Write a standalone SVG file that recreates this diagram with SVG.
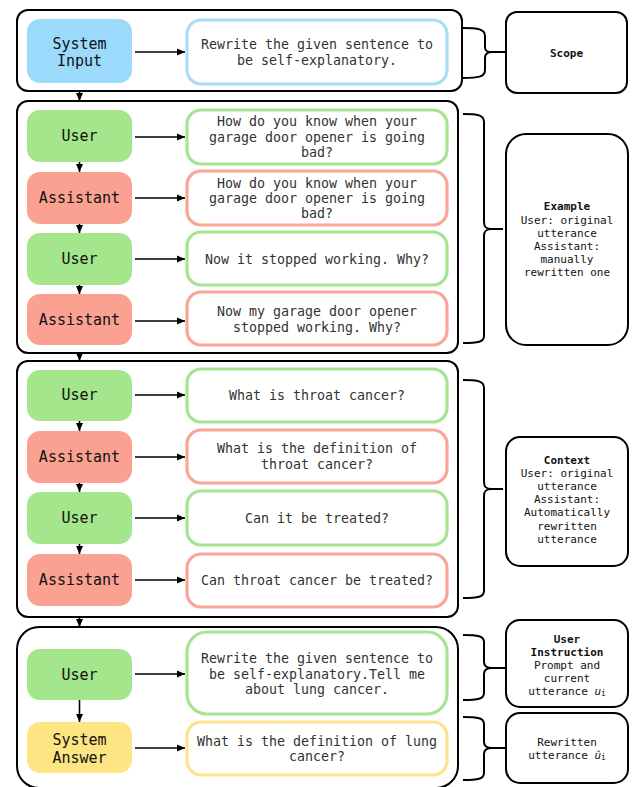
<svg xmlns="http://www.w3.org/2000/svg" width="635" height="787" viewBox="0 0 635 787">
<defs>
<marker id="ah" markerUnits="userSpaceOnUse" markerWidth="9" markerHeight="8" refX="8" refY="4" orient="auto">
<path d="M0,0.5 L8,4 L0,7.5 z" fill="#000"/>
</marker>
<style>
.outer{fill:#fff;stroke:#000;stroke-width:2}
.side{fill:#fff;stroke:#000;stroke-width:2}
.node{stroke:none}
.u{fill:#a3e68b}
.a{fill:#faa191}
.s{fill:#9cdafc}
.y{fill:#fde583}
.tb{fill:#fff;stroke-width:3.2}
.tu{stroke:#a6e491}
.ta{stroke:#f9a598}
.ts{stroke:#a9dcf7}
.ty{stroke:#fde38b}
.lbl{font-family:"DejaVu Sans Mono","Liberation Mono",monospace;font-size:15px;fill:#111;text-anchor:middle;dominant-baseline:central}
.txt{font-family:"DejaVu Sans Mono","Liberation Mono",monospace;font-size:13.3px;fill:#333;text-anchor:middle;dominant-baseline:central}
.st{font-family:"DejaVu Sans Mono","Liberation Mono",monospace;font-size:11px;fill:#111;text-anchor:middle;dominant-baseline:central}
.b{font-weight:bold}
.con line{stroke:#000;stroke-width:1.6;marker-end:url(#ah)}
.brace path{fill:none;stroke:#000;stroke-width:2}
</style>
</defs>

<!-- section containers -->
<g id="section1"><rect class="outer" x="17" y="10" width="445" height="81" rx="11"/></g>
<g id="section2"><rect class="outer" x="17" y="101" width="441" height="252" rx="11"/></g>
<g id="section3"><rect class="outer" x="17" y="361" width="441" height="256" rx="11"/></g>
<g id="section4"><rect class="outer" x="17" y="627" width="441" height="161" rx="22"/></g>

<!-- section 1 -->
<g id="n-system-input"><rect class="node s" x="27" y="19" width="105" height="64" rx="13"/>
<text class="lbl" x="79.5" y="44">System</text><text class="lbl" x="79.5" y="61">Input</text></g>
<g id="t-system-input"><rect class="tb ts" x="187" y="20" width="260" height="64" rx="14"/>
<text class="txt" x="317" y="44">Rewrite the given sentence to</text><text class="txt" x="317" y="60">be self-explanatory.</text></g>

<!-- section 2 -->
<g id="n-user1"><rect class="node u" x="27" y="110" width="105" height="52" rx="13"/><text class="lbl" x="79.5" y="136">User</text></g>
<g id="t-user1"><rect class="tb tu" x="187" y="110" width="260" height="54" rx="14"/>
<text class="txt" x="317" y="121">How do you know when your</text><text class="txt" x="317" y="137">garage door opener is going</text><text class="txt" x="317" y="152">bad?</text></g>
<g id="n-asst1"><rect class="node a" x="27" y="172" width="105" height="52" rx="13"/><text class="lbl" x="79.5" y="198">Assistant</text></g>
<g id="t-asst1"><rect class="tb ta" x="187" y="171" width="260" height="54" rx="14"/>
<text class="txt" x="317" y="183">How do you know when your</text><text class="txt" x="317" y="198">garage door opener is going</text><text class="txt" x="317" y="213">bad?</text></g>
<g id="n-user2"><rect class="node u" x="27" y="233" width="105" height="52" rx="13"/><text class="lbl" x="79.5" y="259">User</text></g>
<g id="t-user2"><rect class="tb tu" x="187" y="232" width="260" height="53" rx="14"/>
<text class="txt" x="317" y="259">Now it stopped working. Why?</text></g>
<g id="n-asst2"><rect class="node a" x="27" y="294" width="105" height="51" rx="13"/><text class="lbl" x="79.5" y="320">Assistant</text></g>
<g id="t-asst2"><rect class="tb ta" x="187" y="292" width="260" height="53" rx="14"/>
<text class="txt" x="317" y="311">Now my garage door opener</text><text class="txt" x="317" y="327">stopped working. Why?</text></g>

<!-- section 3 -->
<g id="n-user3"><rect class="node u" x="27" y="370" width="105" height="51" rx="13"/><text class="lbl" x="79.5" y="395">User</text></g>
<g id="t-user3"><rect class="tb tu" x="187" y="369" width="260" height="53" rx="14"/>
<text class="txt" x="317" y="395">What is throat cancer?</text></g>
<g id="n-asst3"><rect class="node a" x="27" y="431" width="105" height="52" rx="13"/><text class="lbl" x="79.5" y="457">Assistant</text></g>
<g id="t-asst3"><rect class="tb ta" x="187" y="430" width="260" height="53" rx="14"/>
<text class="txt" x="317" y="448">What is the definition of</text><text class="txt" x="317" y="464">throat cancer?</text></g>
<g id="n-user4"><rect class="node u" x="27" y="492" width="105" height="52" rx="13"/><text class="lbl" x="79.5" y="518">User</text></g>
<g id="t-user4"><rect class="tb tu" x="187" y="491" width="260" height="54" rx="14"/>
<text class="txt" x="317" y="518">Can it be treated?</text></g>
<g id="n-asst4"><rect class="node a" x="27" y="554" width="105" height="52" rx="13"/><text class="lbl" x="79.5" y="580">Assistant</text></g>
<g id="t-asst4"><rect class="tb ta" x="187" y="554" width="260" height="53" rx="14"/>
<text class="txt" x="317" y="580">Can throat cancer be treated?</text></g>

<!-- section 4 -->
<g id="n-user5"><rect class="node u" x="27" y="649" width="105" height="51" rx="13"/><text class="lbl" x="79.5" y="675">User</text></g>
<g id="t-user5"><rect class="tb tu" x="187" y="632" width="260" height="82" rx="20"/>
<text class="txt" x="317" y="658">Rewrite the given sentence to</text><text class="txt" x="317" y="674">be self-explanatory.Tell me</text><text class="txt" x="317" y="689">about lung cancer.</text></g>
<g id="n-system-answer"><rect class="node y" x="27" y="722" width="105" height="51" rx="13"/>
<text class="lbl" x="79.5" y="740">System</text><text class="lbl" x="79.5" y="758">Answer</text></g>
<g id="t-system-answer"><rect class="tb ty" x="187" y="722" width="260" height="53" rx="14"/>
<text class="txt" x="317" y="741">What is the definition of lung</text><text class="txt" x="317" y="756">cancer?</text></g>

<!-- side boxes -->
<g id="scope"><rect class="side" x="506" y="12" width="121" height="81" rx="11"/><text class="st b" x="566.5" y="53">Scope</text></g>
<g id="example"><rect class="side" x="506" y="134" width="122" height="211" rx="20"/>
<text class="st b" x="567" y="206">Example</text><text class="st" x="567" y="220">User: original</text><text class="st" x="567" y="233">utterance</text><text class="st" x="567" y="246">Assistant:</text><text class="st" x="567" y="259">manually</text><text class="st" x="567" y="272">rewritten one</text></g>
<g id="context"><rect class="side" x="506" y="437" width="122" height="129" rx="14"/>
<text class="st b" x="567" y="460">Context</text><text class="st" x="567" y="473">User: original</text><text class="st" x="567" y="486">utterance</text><text class="st" x="567" y="499">Assistant:</text><text class="st" x="567" y="512">Automatically</text><text class="st" x="567" y="526">rewritten</text><text class="st" x="567" y="539">utterance</text></g>
<g id="user-instruction"><rect class="side" x="506" y="620" width="122" height="87" rx="14"/>
<text class="st b" x="567" y="639">User</text><text class="st b" x="567" y="652">Instruction</text><text class="st" x="567" y="665">Prompt and</text><text class="st" x="567" y="678">current</text><text class="st" x="567" y="691">utterance <tspan font-style="italic">u</tspan><tspan font-size="8" dy="2">i</tspan></text></g>
<g id="rewritten"><rect class="side" x="506" y="713" width="122" height="70" rx="14"/>
<text class="st" x="567" y="742">Rewritten</text><text class="st" x="567" y="755">utterance <tspan font-style="italic">û</tspan><tspan font-size="8" dy="2">i</tspan></text></g>

<!-- braces -->
<g id="braces" class="brace">
<path d="M463,28 C478,28 485,29 485,36 L485,47 C485,51 487,52 492,52 L506,52 M492,52 C487,52 485,54 485,58 L485,70 C485,77 478,78 463,78"/>
<path d="M463,114 C478,114 484,115 484,122 L484,222 C484,227 486,229 492,229 L503,229 M492,229 C486,229 484,231 484,236 L484,336 C484,342 478,343 463,343"/>
<path d="M463,380 C478,380 484,381 484,388 L484,482 C484,487 486,489 492,489 L503,489 M492,489 C486,489 484,491 484,496 L484,591 C484,597 478,598 463,598"/>
<path d="M463,635 C478,635 484,636 484,642 L484,662 C484,666 486,668 492,668 L505,668 M492,668 C486,668 484,670 484,674 L484,693 C484,699 478,700 463,700"/>
<path d="M463,717 C478,717 484,718 484,724 L484,742 C484,746 486,748 492,748 L505,748 M492,748 C486,748 484,750 484,754 L484,773 C484,779 478,780 463,780"/>
</g>

<!-- connectors -->
<g id="connectors" class="con">
<line x1="135" y1="52" x2="185" y2="52"/>
<line x1="135" y1="137" x2="185" y2="137"/>
<line x1="135" y1="198" x2="185" y2="198"/>
<line x1="135" y1="259" x2="185" y2="259"/>
<line x1="135" y1="321" x2="185" y2="321"/>
<line x1="135" y1="395" x2="185" y2="395"/>
<line x1="135" y1="457" x2="185" y2="457"/>
<line x1="135" y1="518" x2="185" y2="518"/>
<line x1="135" y1="580" x2="185" y2="580"/>
<line x1="135" y1="674" x2="185" y2="674"/>
<line x1="135" y1="748" x2="185" y2="748"/>
<line x1="79.5" y1="91" x2="79.5" y2="101"/>
<line x1="79.5" y1="162" x2="79.5" y2="172"/>
<line x1="79.5" y1="224" x2="79.5" y2="233"/>
<line x1="79.5" y1="285" x2="79.5" y2="294"/>
<line x1="79.5" y1="353" x2="79.5" y2="361"/>
<line x1="79.5" y1="421" x2="79.5" y2="431"/>
<line x1="79.5" y1="483" x2="79.5" y2="492"/>
<line x1="79.5" y1="544" x2="79.5" y2="554"/>
<line x1="79.5" y1="617" x2="79.5" y2="627"/>
<line x1="79.5" y1="700" x2="79.5" y2="722"/>
</g>
</svg>
